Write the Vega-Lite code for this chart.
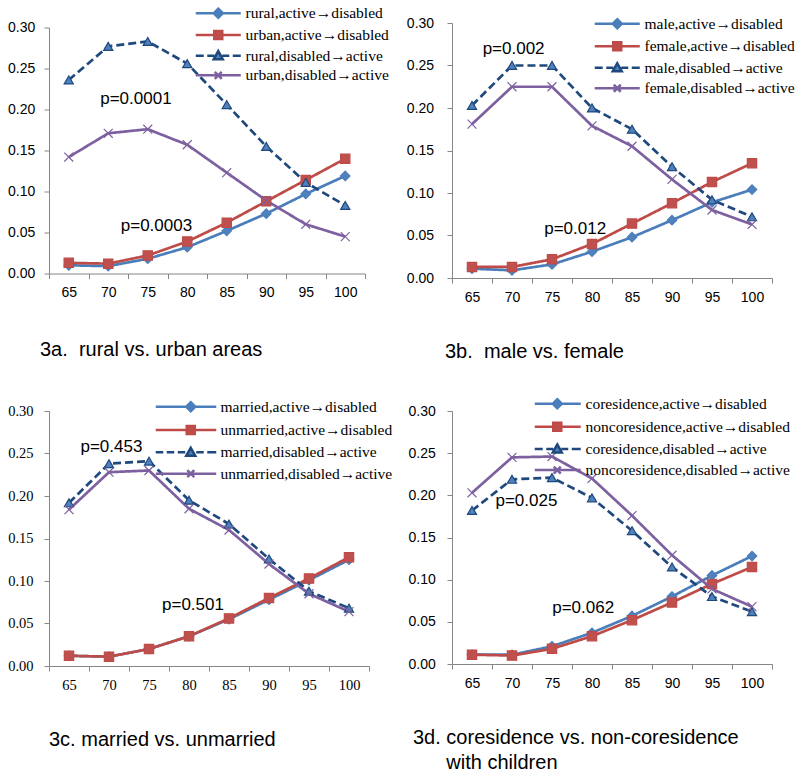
{
"$schema":"https://vega.github.io/schema/vega-lite/v6.json",
"padding":{"left":7,"top":5,"right":3,"bottom":3},
"background":"white",
"config":{
 "view":{"stroke":null},
 "font":"Liberation Sans",
 "axis":{"domainColor":"#868686","tickColor":"#868686","domainWidth":1,"tickWidth":1,"grid":false,"labelColor":"#000000","labelFont":"Liberation Sans","labelFontSize":14},
 "title":{"orient":"bottom","anchor":"start","frame":"group","font":"Liberation Sans","fontSize":20,"fontWeight":"normal","color":"#000000","lineHeight":25}
},
"datasets":{
 "a":[
  {"k":0,"s":"rural,active→disabled","age":65,"v":0.010},{"k":0,"s":"rural,active→disabled","age":70,"v":0.009},{"k":0,"s":"rural,active→disabled","age":75,"v":0.018},{"k":0,"s":"rural,active→disabled","age":80,"v":0.032},{"k":0,"s":"rural,active→disabled","age":85,"v":0.052},{"k":0,"s":"rural,active→disabled","age":90,"v":0.073},{"k":0,"s":"rural,active→disabled","age":95,"v":0.097},{"k":0,"s":"rural,active→disabled","age":100,"v":0.119},
  {"k":1,"s":"urban,active→disabled","age":65,"v":0.013},{"k":1,"s":"urban,active→disabled","age":70,"v":0.012},{"k":1,"s":"urban,active→disabled","age":75,"v":0.022},{"k":1,"s":"urban,active→disabled","age":80,"v":0.039},{"k":1,"s":"urban,active→disabled","age":85,"v":0.062},{"k":1,"s":"urban,active→disabled","age":90,"v":0.088},{"k":1,"s":"urban,active→disabled","age":95,"v":0.114},{"k":1,"s":"urban,active→disabled","age":100,"v":0.140},
  {"k":2,"s":"rural,disabled→active","age":65,"v":0.236},{"k":2,"s":"rural,disabled→active","age":70,"v":0.277},{"k":2,"s":"rural,disabled→active","age":75,"v":0.283},{"k":2,"s":"rural,disabled→active","age":80,"v":0.256},{"k":2,"s":"rural,disabled→active","age":85,"v":0.206},{"k":2,"s":"rural,disabled→active","age":90,"v":0.155},{"k":2,"s":"rural,disabled→active","age":95,"v":0.111},{"k":2,"s":"rural,disabled→active","age":100,"v":0.083},
  {"k":3,"s":"urban,disabled→active","age":65,"v":0.142},{"k":3,"s":"urban,disabled→active","age":70,"v":0.171},{"k":3,"s":"urban,disabled→active","age":75,"v":0.176},{"k":3,"s":"urban,disabled→active","age":80,"v":0.157},{"k":3,"s":"urban,disabled→active","age":85,"v":0.123},{"k":3,"s":"urban,disabled→active","age":90,"v":0.089},{"k":3,"s":"urban,disabled→active","age":95,"v":0.060},{"k":3,"s":"urban,disabled→active","age":100,"v":0.045}
 ],
 "b":[
  {"k":0,"s":"male,active→disabled","age":65,"v":0.011},{"k":0,"s":"male,active→disabled","age":70,"v":0.009},{"k":0,"s":"male,active→disabled","age":75,"v":0.016},{"k":0,"s":"male,active→disabled","age":80,"v":0.031},{"k":0,"s":"male,active→disabled","age":85,"v":0.048},{"k":0,"s":"male,active→disabled","age":90,"v":0.068},{"k":0,"s":"male,active→disabled","age":95,"v":0.089},{"k":0,"s":"male,active→disabled","age":100,"v":0.104},
  {"k":1,"s":"female,active→disabled","age":65,"v":0.013},{"k":1,"s":"female,active→disabled","age":70,"v":0.013},{"k":1,"s":"female,active→disabled","age":75,"v":0.022},{"k":1,"s":"female,active→disabled","age":80,"v":0.040},{"k":1,"s":"female,active→disabled","age":85,"v":0.064},{"k":1,"s":"female,active→disabled","age":90,"v":0.088},{"k":1,"s":"female,active→disabled","age":95,"v":0.113},{"k":1,"s":"female,active→disabled","age":100,"v":0.135},
  {"k":2,"s":"male,disabled→active","age":65,"v":0.203},{"k":2,"s":"male,disabled→active","age":70,"v":0.250},{"k":2,"s":"male,disabled→active","age":75,"v":0.250},{"k":2,"s":"male,disabled→active","age":80,"v":0.200},{"k":2,"s":"male,disabled→active","age":85,"v":0.175},{"k":2,"s":"male,disabled→active","age":90,"v":0.131},{"k":2,"s":"male,disabled→active","age":95,"v":0.092},{"k":2,"s":"male,disabled→active","age":100,"v":0.072},
  {"k":3,"s":"female,disabled→active","age":65,"v":0.181},{"k":3,"s":"female,disabled→active","age":70,"v":0.225},{"k":3,"s":"female,disabled→active","age":75,"v":0.225},{"k":3,"s":"female,disabled→active","age":80,"v":0.179},{"k":3,"s":"female,disabled→active","age":85,"v":0.155},{"k":3,"s":"female,disabled→active","age":90,"v":0.116},{"k":3,"s":"female,disabled→active","age":95,"v":0.080},{"k":3,"s":"female,disabled→active","age":100,"v":0.063}
 ],
 "c":[
  {"k":0,"s":"married,active→disabled","age":65,"v":0.012},{"k":0,"s":"married,active→disabled","age":70,"v":0.011},{"k":0,"s":"married,active→disabled","age":75,"v":0.020},{"k":0,"s":"married,active→disabled","age":80,"v":0.035},{"k":0,"s":"married,active→disabled","age":85,"v":0.055},{"k":0,"s":"married,active→disabled","age":90,"v":0.078},{"k":0,"s":"married,active→disabled","age":95,"v":0.101},{"k":0,"s":"married,active→disabled","age":100,"v":0.125},
  {"k":1,"s":"unmarried,active→disabled","age":65,"v":0.012},{"k":1,"s":"unmarried,active→disabled","age":70,"v":0.011},{"k":1,"s":"unmarried,active→disabled","age":75,"v":0.020},{"k":1,"s":"unmarried,active→disabled","age":80,"v":0.035},{"k":1,"s":"unmarried,active→disabled","age":85,"v":0.056},{"k":1,"s":"unmarried,active→disabled","age":90,"v":0.080},{"k":1,"s":"unmarried,active→disabled","age":95,"v":0.103},{"k":1,"s":"unmarried,active→disabled","age":100,"v":0.128},
  {"k":2,"s":"married,disabled→active","age":65,"v":0.192},{"k":2,"s":"married,disabled→active","age":70,"v":0.238},{"k":2,"s":"married,disabled→active","age":75,"v":0.241},{"k":2,"s":"married,disabled→active","age":80,"v":0.195},{"k":2,"s":"married,disabled→active","age":85,"v":0.167},{"k":2,"s":"married,disabled→active","age":90,"v":0.126},{"k":2,"s":"married,disabled→active","age":95,"v":0.088},{"k":2,"s":"married,disabled→active","age":100,"v":0.068},
  {"k":3,"s":"unmarried,disabled→active","age":65,"v":0.184},{"k":3,"s":"unmarried,disabled→active","age":70,"v":0.228},{"k":3,"s":"unmarried,disabled→active","age":75,"v":0.230},{"k":3,"s":"unmarried,disabled→active","age":80,"v":0.185},{"k":3,"s":"unmarried,disabled→active","age":85,"v":0.160},{"k":3,"s":"unmarried,disabled→active","age":90,"v":0.120},{"k":3,"s":"unmarried,disabled→active","age":95,"v":0.085},{"k":3,"s":"unmarried,disabled→active","age":100,"v":0.064}
 ],
 "d":[
  {"k":0,"s":"coresidence,active→disabled","age":65,"v":0.011},{"k":0,"s":"coresidence,active→disabled","age":70,"v":0.011},{"k":0,"s":"coresidence,active→disabled","age":75,"v":0.021},{"k":0,"s":"coresidence,active→disabled","age":80,"v":0.037},{"k":0,"s":"coresidence,active→disabled","age":85,"v":0.057},{"k":0,"s":"coresidence,active→disabled","age":90,"v":0.080},{"k":0,"s":"coresidence,active→disabled","age":95,"v":0.105},{"k":0,"s":"coresidence,active→disabled","age":100,"v":0.128},
  {"k":1,"s":"noncoresidence,active→disabled","age":65,"v":0.011},{"k":1,"s":"noncoresidence,active→disabled","age":70,"v":0.010},{"k":1,"s":"noncoresidence,active→disabled","age":75,"v":0.018},{"k":1,"s":"noncoresidence,active→disabled","age":80,"v":0.033},{"k":1,"s":"noncoresidence,active→disabled","age":85,"v":0.052},{"k":1,"s":"noncoresidence,active→disabled","age":90,"v":0.073},{"k":1,"s":"noncoresidence,active→disabled","age":95,"v":0.095},{"k":1,"s":"noncoresidence,active→disabled","age":100,"v":0.115},
  {"k":2,"s":"coresidence,disabled→active","age":65,"v":0.182},{"k":2,"s":"coresidence,disabled→active","age":70,"v":0.219},{"k":2,"s":"coresidence,disabled→active","age":75,"v":0.221},{"k":2,"s":"coresidence,disabled→active","age":80,"v":0.197},{"k":2,"s":"coresidence,disabled→active","age":85,"v":0.158},{"k":2,"s":"coresidence,disabled→active","age":90,"v":0.115},{"k":2,"s":"coresidence,disabled→active","age":95,"v":0.080},{"k":2,"s":"coresidence,disabled→active","age":100,"v":0.062},
  {"k":3,"s":"noncoresidence,disabled→active","age":65,"v":0.203},{"k":3,"s":"noncoresidence,disabled→active","age":70,"v":0.245},{"k":3,"s":"noncoresidence,disabled→active","age":75,"v":0.246},{"k":3,"s":"noncoresidence,disabled→active","age":80,"v":0.220},{"k":3,"s":"noncoresidence,disabled→active","age":85,"v":0.176},{"k":3,"s":"noncoresidence,disabled→active","age":90,"v":0.129},{"k":3,"s":"noncoresidence,disabled→active","age":95,"v":0.089},{"k":3,"s":"noncoresidence,disabled→active","age":100,"v":0.068}
 ],
 "na":[{"t":"p=0.0001","age":73.5,"v":0.213},{"t":"p=0.0003","age":76.1,"v":0.058}],
 "nb":[{"t":"p=0.002","age":70.2,"v":0.269},{"t":"p=0.012","age":77.9,"v":0.058}],
 "nc":[{"t":"p=0.453","age":70.3,"v":0.258},{"t":"p=0.501","age":80.5,"v":0.072}],
 "nd":[{"t":"p=0.025","age":71.8,"v":0.193},{"t":"p=0.062","age":78.9,"v":0.066}]
},
"columns":2,
"spacing":{"row":133,"column":83},
"bounds":"flush",
"center":{"row":true},
"resolve":{"scale":{"color":"independent","x":"independent","y":"independent"},"legend":{"color":"independent"},"axis":{"x":"independent","y":"independent"}},
"concat":[
 {
  "width":316,"height":246,
  "title":{"text":"3a.\u00a0 rural vs. urban areas","orient":"bottom","dx":-9,"offset":40},
  "encoding":{
   "x":{"field":"age","type":"quantitative","scale":{"domain":[62.5,102.5],"nice":false,"zero":false},"axis":{"values":[62.5,67.5,72.5,77.5,82.5,87.5,92.5,97.5,102.5],"labelExpr":"datum.value > 100 ? '' : format(datum.value + 2.5, 'd')","labelOffset":19.75,"tickSize":5,"labelPadding":7,"title":null,"labelOverlap":false,"labelBound":false,"labelFlush":false}},
   "y":{"field":"v","type":"quantitative","scale":{"domain":[0,0.3],"nice":false},"axis":{"values":[0,0.05,0.1,0.15,0.2,0.25,0.3],"format":".2f","tickSize":5,"labelPadding":9.3,"title":null}}
  },
  "layer":[
   {"data":{"name":"a"},"mark":{"type":"line","strokeWidth":2.7},
    "encoding":{
     "color":{"field":"s","type":"nominal","scale":{"domain":["rural,active→disabled","urban,active→disabled","rural,disabled→active","urban,disabled→active"],"range":["#4A7EBB","#BE4B48","#1F497D","#7D60A0"]},
      "legend":{"orient":"none","legendX":144,"legendY":-22,"title":null,"padding":0,"symbolSize":100,"symbolStrokeWidth":2.5,"labelFont":"Liberation Serif","labelFontSize":15.5,"labelColor":"#000000","labelOffset":37,"labelLimit":500,"rowPadding":1.7,
       "encode":{"symbols":{"update":{
        "shape":{"signal":"['M-1,0H8M3.5,-0.9L4.4,0L3.5,0.9L2.6,0Z','M-1,0H8M2.7,-0.8H4.3V0.8H2.7Z','M-1,0H0.6M1.3,0H2.7M4.3,0H5.7M6.4,0H8M3.5,-0.9L4.4,0.7H2.6Z','M-1,0H8M2.8,-0.7L4.2,0.7M2.8,0.7L4.2,-0.7'][datum.index]"},
        "fill":{"signal":"['#4F81BD','#C0504D','#4F81BD','transparent'][datum.index]"},
        "stroke":{"signal":"['#4A7EBB','#BE4B48','#1F497D','#7D60A0'][datum.index]"}}}}}},
     "strokeDash":{"field":"k","type":"nominal","scale":{"domain":[0,1,2,3],"range":[[1,0],[1,0],[8,4],[1,0]]},"legend":null}}},
   {"data":{"name":"a"},"mark":{"type":"point","filled":true,"opacity":1,"strokeWidth":1.2},
    "encoding":{
     "shape":{"field":"k","type":"nominal","scale":{"domain":[0,1,2,3],"range":["diamond","square","triangle-up","M-1,-1L1,1M-1,1L1,-1"]},"legend":null},
     "fill":{"field":"k","type":"nominal","scale":{"domain":[0,1,2,3],"range":["#4F81BD","#C0504D","#4F81BD","#7D60A0"]},"legend":null},
     "stroke":{"field":"k","type":"nominal","scale":{"domain":[0,1,2,3],"range":["#4A7EBB","#BE4B48","#1F497D","#7D60A0"]},"legend":null},
     "size":{"field":"k","type":"ordinal","scale":{"domain":[0,1,2,3],"range":[90,80,100,60]},"legend":null}}},
   {"data":{"name":"na"},"mark":{"type":"text","font":"Liberation Sans","fontSize":17,"color":"#000000"},"encoding":{"text":{"field":"t"}}}
  ]
 },
 {
  "width":320,"height":255,
  "title":{"text":"3b.\u00a0 male vs. female","orient":"bottom","dx":-7,"offset":38},
  "encoding":{
   "x":{"field":"age","type":"quantitative","scale":{"domain":[62.5,102.5],"nice":false,"zero":false},"axis":{"values":[62.5,67.5,72.5,77.5,82.5,87.5,92.5,97.5,102.5],"labelExpr":"datum.value > 100 ? '' : format(datum.value + 2.5, 'd')","labelOffset":20,"tickSize":5,"labelPadding":7,"title":null,"labelOverlap":false,"labelBound":false,"labelFlush":false}},
   "y":{"field":"v","type":"quantitative","scale":{"domain":[0,0.3],"nice":false},"axis":{"values":[0,0.05,0.1,0.15,0.2,0.25,0.3],"format":".2f","tickSize":5,"labelPadding":13.4,"title":null}}
  },
  "layer":[
   {"data":{"name":"b"},"mark":{"type":"line","strokeWidth":2.7},
    "encoding":{
     "color":{"field":"s","type":"nominal","scale":{"domain":["male,active→disabled","female,active→disabled","male,disabled→active","female,disabled→active"],"range":["#4A7EBB","#BE4B48","#1F497D","#7D60A0"]},
      "legend":{"orient":"none","legendX":140,"legendY":-7,"title":null,"padding":0,"symbolSize":100,"symbolStrokeWidth":2.5,"labelFont":"Liberation Serif","labelFontSize":15.5,"labelColor":"#000000","labelOffset":37,"labelLimit":500,"rowPadding":2.5,
       "encode":{"symbols":{"update":{
        "shape":{"signal":"['M-1,0H8M3.5,-0.9L4.4,0L3.5,0.9L2.6,0Z','M-1,0H8M2.7,-0.8H4.3V0.8H2.7Z','M-1,0H0.6M1.3,0H2.7M4.3,0H5.7M6.4,0H8M3.5,-0.9L4.4,0.7H2.6Z','M-1,0H8M2.8,-0.7L4.2,0.7M2.8,0.7L4.2,-0.7'][datum.index]"},
        "fill":{"signal":"['#4F81BD','#C0504D','#4F81BD','transparent'][datum.index]"},
        "stroke":{"signal":"['#4A7EBB','#BE4B48','#1F497D','#7D60A0'][datum.index]"}}}}}},
     "strokeDash":{"field":"k","type":"nominal","scale":{"domain":[0,1,2,3],"range":[[1,0],[1,0],[8,4],[1,0]]},"legend":null}}},
   {"data":{"name":"b"},"mark":{"type":"point","filled":true,"opacity":1,"strokeWidth":1.2},
    "encoding":{
     "shape":{"field":"k","type":"nominal","scale":{"domain":[0,1,2,3],"range":["diamond","square","triangle-up","M-1,-1L1,1M-1,1L1,-1"]},"legend":null},
     "fill":{"field":"k","type":"nominal","scale":{"domain":[0,1,2,3],"range":["#4F81BD","#C0504D","#4F81BD","#7D60A0"]},"legend":null},
     "stroke":{"field":"k","type":"nominal","scale":{"domain":[0,1,2,3],"range":["#4A7EBB","#BE4B48","#1F497D","#7D60A0"]},"legend":null},
     "size":{"field":"k","type":"ordinal","scale":{"domain":[0,1,2,3],"range":[90,80,100,60]},"legend":null}}},
   {"data":{"name":"nb"},"mark":{"type":"text","font":"Liberation Sans","fontSize":17,"color":"#000000"},"encoding":{"text":{"field":"t"}}}
  ]
 },
 {
  "width":320,"height":255,
  "title":{"text":"3c. married vs. unmarried","orient":"bottom","dx":0,"offset":38},
  "encoding":{
   "x":{"field":"age","type":"quantitative","scale":{"domain":[62.5,102.5],"nice":false,"zero":false},"axis":{"values":[62.5,67.5,72.5,77.5,82.5,87.5,92.5,97.5,102.5],"labelExpr":"datum.value > 100 ? '' : format(datum.value + 2.5, 'd')","labelOffset":20,"tickSize":5,"labelPadding":7,"title":null,"labelOverlap":false,"labelBound":false,"labelFlush":false,"labelFont":"Liberation Serif","labelFontSize":14.5}},
   "y":{"field":"v","type":"quantitative","scale":{"domain":[0,0.3],"nice":false},"axis":{"values":[0,0.05,0.1,0.15,0.2,0.25,0.3],"format":".2f","tickSize":5,"labelPadding":11,"title":null,"labelFont":"Liberation Serif","labelFontSize":14.5}}
  },
  "layer":[
   {"data":{"name":"c"},"mark":{"type":"line","strokeWidth":2.7},
    "encoding":{
     "color":{"field":"s","type":"nominal","scale":{"domain":["married,active→disabled","unmarried,active→disabled","married,disabled→active","unmarried,disabled→active"],"range":["#4A7EBB","#BE4B48","#1F497D","#7D60A0"]},
      "legend":{"orient":"none","legendX":104,"legendY":-12,"title":null,"padding":0,"symbolSize":100,"symbolStrokeWidth":2.5,"labelFont":"Liberation Serif","labelFontSize":15.5,"labelColor":"#000000","labelOffset":52,"labelLimit":500,"rowPadding":3.3,
       "encode":{"symbols":{"update":{
        "shape":{"signal":"['M-1,0H11.1M6,-0.9L6.9,0L6,0.9L5.1,0Z','M-1,0H11.1M5.2,-0.8H6.8V0.8H5.2Z','M-1,0H0.5M1.2,0H2.7M3.4,0H4.9M7.1,0H8.6M9.3,0H11.1M6,-0.9L6.9,0.7H5.1Z','M-1,0H11.1M5.3,-0.7L6.7,0.7M5.3,0.7L6.7,-0.7'][datum.index]"},
        "fill":{"signal":"['#4F81BD','#C0504D','#4F81BD','transparent'][datum.index]"},
        "stroke":{"signal":"['#4A7EBB','#BE4B48','#1F497D','#7D60A0'][datum.index]"}}}}}},
     "strokeDash":{"field":"k","type":"nominal","scale":{"domain":[0,1,2,3],"range":[[1,0],[1,0],[8,4],[1,0]]},"legend":null}}},
   {"data":{"name":"c"},"mark":{"type":"point","filled":true,"opacity":1,"strokeWidth":1.2},
    "encoding":{
     "shape":{"field":"k","type":"nominal","scale":{"domain":[0,1,2,3],"range":["diamond","square","triangle-up","M-1,-1L1,1M-1,1L1,-1"]},"legend":null},
     "fill":{"field":"k","type":"nominal","scale":{"domain":[0,1,2,3],"range":["#4F81BD","#C0504D","#4F81BD","#7D60A0"]},"legend":null},
     "stroke":{"field":"k","type":"nominal","scale":{"domain":[0,1,2,3],"range":["#4A7EBB","#BE4B48","#1F497D","#7D60A0"]},"legend":null},
     "size":{"field":"k","type":"ordinal","scale":{"domain":[0,1,2,3],"range":[90,80,100,60]},"legend":null}}},
   {"data":{"name":"nc"},"mark":{"type":"text","font":"Liberation Sans","fontSize":17,"color":"#000000"},"encoding":{"text":{"field":"t"}}}
  ]
 },
 {
  "width":320,"height":253,
  "title":{"text":["3d. coresidence vs. non-coresidence","\u200b\u00a0\u00a0\u00a0\u00a0\u00a0\u00a0with children"],"orient":"bottom","dx":-39,"offset":38},
  "encoding":{
   "x":{"field":"age","type":"quantitative","scale":{"domain":[62.5,102.5],"nice":false,"zero":false},"axis":{"values":[62.5,67.5,72.5,77.5,82.5,87.5,92.5,97.5,102.5],"labelExpr":"datum.value > 100 ? '' : format(datum.value + 2.5, 'd')","labelOffset":20,"tickSize":5,"labelPadding":7,"title":null,"labelOverlap":false,"labelBound":false,"labelFlush":false}},
   "y":{"field":"v","type":"quantitative","scale":{"domain":[0,0.3],"nice":false},"axis":{"values":[0,0.05,0.1,0.15,0.2,0.25,0.3],"format":".2f","tickSize":5,"labelPadding":11.7,"title":null}}
  },
  "layer":[
   {"data":{"name":"d"},"mark":{"type":"line","strokeWidth":2.7},
    "encoding":{
     "color":{"field":"s","type":"nominal","scale":{"domain":["coresidence,active→disabled","noncoresidence,active→disabled","coresidence,disabled→active","noncoresidence,disabled→active"],"range":["#4A7EBB","#BE4B48","#1F497D","#7D60A0"]},
      "legend":{"orient":"none","legendX":80,"legendY":-15,"title":null,"padding":0,"symbolSize":100,"symbolStrokeWidth":2.5,"labelFont":"Liberation Serif","labelFontSize":15.5,"labelColor":"#000000","labelOffset":38,"labelLimit":500,"rowPadding":3.1,
       "encode":{"symbols":{"update":{
        "shape":{"signal":"['M-1,0H8.2M3.5,-0.9L4.4,0L3.5,0.9L2.6,0Z','M-1,0H8.2M2.7,-0.8H4.3V0.8H2.7Z','M-1,0H0.6M1.3,0H2.7M4.3,0H5.7M6.4,0H8.2M3.5,-0.9L4.4,0.7H2.6Z','M-1,0H8.2M2.8,-0.7L4.2,0.7M2.8,0.7L4.2,-0.7'][datum.index]"},
        "fill":{"signal":"['#4F81BD','#C0504D','#4F81BD','transparent'][datum.index]"},
        "stroke":{"signal":"['#4A7EBB','#BE4B48','#1F497D','#7D60A0'][datum.index]"}}}}}},
     "strokeDash":{"field":"k","type":"nominal","scale":{"domain":[0,1,2,3],"range":[[1,0],[1,0],[8,4],[1,0]]},"legend":null}}},
   {"data":{"name":"d"},"mark":{"type":"point","filled":true,"opacity":1,"strokeWidth":1.2},
    "encoding":{
     "shape":{"field":"k","type":"nominal","scale":{"domain":[0,1,2,3],"range":["diamond","square","triangle-up","M-1,-1L1,1M-1,1L1,-1"]},"legend":null},
     "fill":{"field":"k","type":"nominal","scale":{"domain":[0,1,2,3],"range":["#4F81BD","#C0504D","#4F81BD","#7D60A0"]},"legend":null},
     "stroke":{"field":"k","type":"nominal","scale":{"domain":[0,1,2,3],"range":["#4A7EBB","#BE4B48","#1F497D","#7D60A0"]},"legend":null},
     "size":{"field":"k","type":"ordinal","scale":{"domain":[0,1,2,3],"range":[90,80,100,60]},"legend":null}}},
   {"data":{"name":"nd"},"mark":{"type":"text","font":"Liberation Sans","fontSize":17,"color":"#000000"},"encoding":{"text":{"field":"t"}}}
  ]
 }
]
}
